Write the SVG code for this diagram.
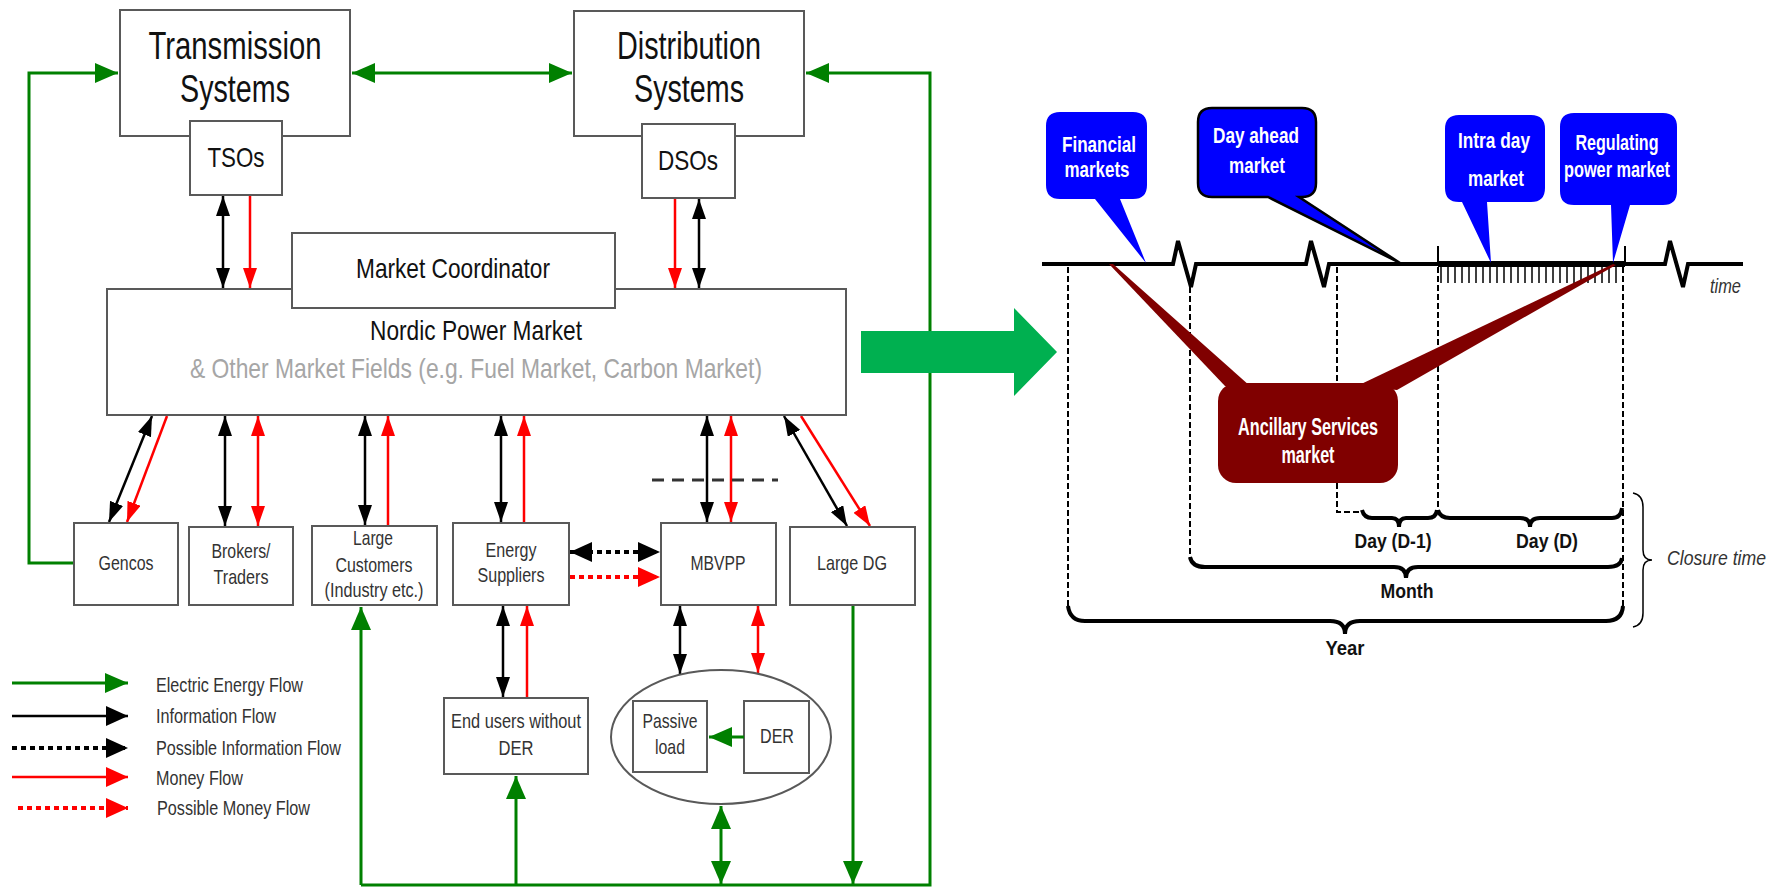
<svg xmlns="http://www.w3.org/2000/svg" width="1777" height="889" viewBox="0 0 1777 889">
<style>
text{font-family:"Liberation Sans",Arial,sans-serif}
.box{fill:#fff;stroke:#595959;stroke-width:2}
.big{font-size:38px;fill:#111;text-anchor:middle}
.mid{font-size:28px;fill:#111;text-anchor:middle}
.lbl{font-size:21px;fill:#333;text-anchor:middle}
.leg{font-size:21px;fill:#333}
.g{stroke:#008000;stroke-width:3;fill:none}
.k{stroke:#000;stroke-width:2.5;fill:none}
.r{stroke:#f00;stroke-width:2.5;fill:none}
.kd{stroke:#000;stroke-width:4;fill:none;stroke-dasharray:5 4}
.rd{stroke:#f00;stroke-width:4;fill:none;stroke-dasharray:5 4}
.call{fill:#0000ff}
.ct{font-size:22px;font-weight:bold;fill:#fff;text-anchor:middle}
.dash{stroke:#000;stroke-width:2;fill:none;stroke-dasharray:6 3}
.brace{stroke:#000;stroke-width:4;fill:none}
.bt{font-size:21px;font-weight:bold;fill:#111;text-anchor:middle}
.it{font-size:20px;font-style:italic;fill:#333}
</style>
<defs>
<marker id="ak" viewBox="0 0 20 14" refX="20" refY="7" markerWidth="20" markerHeight="14" markerUnits="userSpaceOnUse" orient="auto-start-reverse"><path d="M0,0 L20,7 L0,14 z" fill="#000"/></marker>
<marker id="ar" viewBox="0 0 20 14" refX="20" refY="7" markerWidth="20" markerHeight="14" markerUnits="userSpaceOnUse" orient="auto-start-reverse"><path d="M0,0 L20,7 L0,14 z" fill="#f00"/></marker>
<marker id="ag" viewBox="0 0 23 20" refX="23" refY="10" markerWidth="23" markerHeight="20" markerUnits="userSpaceOnUse" orient="auto-start-reverse"><path d="M0,0 L23,10 L0,20 z" fill="#008000"/></marker>
<marker id="akL" viewBox="0 0 22 20" refX="22" refY="10" markerWidth="22" markerHeight="20" markerUnits="userSpaceOnUse" orient="auto-start-reverse"><path d="M0,0 L22,10 L0,20 z" fill="#000"/></marker>
<marker id="arL" viewBox="0 0 22 20" refX="22" refY="10" markerWidth="22" markerHeight="20" markerUnits="userSpaceOnUse" orient="auto-start-reverse"><path d="M0,0 L22,10 L0,20 z" fill="#f00"/></marker>
</defs>

<g id="connectors">
  <path class="g" d="M74,563 H29 V73 H118" marker-end="url(#ag)"/>
  <path class="g" d="M352,73 H572" marker-start="url(#ag)" marker-end="url(#ag)"/>
  <path class="g" d="M361,885 H930 V73 H806" marker-end="url(#ag)"/>
  <path class="g" d="M361,885 V607" marker-end="url(#ag)"/>
  <path class="g" d="M516,885 V776" marker-end="url(#ag)"/>
  <path class="g" d="M721,806 V884" marker-start="url(#ag)" marker-end="url(#ag)"/>
  <path class="g" d="M853,605 V884" marker-end="url(#ag)"/>
  <path class="k" d="M223,196 V288" marker-start="url(#ak)" marker-end="url(#ak)"/>
  <path class="r" d="M250,196 V288" marker-end="url(#ar)"/>
  <path class="r" d="M675,199 V288" marker-end="url(#ar)"/>
  <path class="k" d="M699,199 V288" marker-start="url(#ak)" marker-end="url(#ak)"/>
  <path class="k" d="M152,416 L109,522" marker-start="url(#ak)" marker-end="url(#ak)"/>
  <path class="r" d="M167,416 L127,522" marker-end="url(#ar)"/>
  <path class="k" d="M225,416 V526" marker-start="url(#ak)" marker-end="url(#ak)"/>
  <path class="r" d="M258,416 V526" marker-start="url(#ar)" marker-end="url(#ar)"/>
  <path class="k" d="M365,416 V525" marker-start="url(#ak)" marker-end="url(#ak)"/>
  <path class="r" d="M388,526 V416" marker-end="url(#ar)"/>
  <path class="k" d="M501,416 V522" marker-start="url(#ak)" marker-end="url(#ak)"/>
  <path class="r" d="M524,523 V416" marker-end="url(#ar)"/>
  <path class="k" d="M707,416 V522" marker-start="url(#ak)" marker-end="url(#ak)"/>
  <path class="r" d="M731,416 V522" marker-start="url(#ar)" marker-end="url(#ar)"/>
  <path class="k" d="M784,416 L847,526" marker-start="url(#ak)" marker-end="url(#ak)"/>
  <path class="r" d="M801,416 L870,526" marker-end="url(#ar)"/>
  <path d="M652,480 H778" stroke="#333" stroke-width="3" stroke-dasharray="12 8" fill="none"/>
  <path class="kd" d="M570,552 H660" marker-start="url(#akL)" marker-end="url(#akL)"/>
  <path class="rd" d="M570,577 H660" marker-end="url(#arL)"/>
  <path class="k" d="M503,606 V697" marker-start="url(#ak)" marker-end="url(#ak)"/>
  <path class="r" d="M527,698 V606" marker-end="url(#ar)"/>
  <path class="k" d="M680,606 V674" marker-start="url(#ak)" marker-end="url(#ak)"/>
  <path class="r" d="M758,606 V673" marker-start="url(#ar)" marker-end="url(#ar)"/>
</g>

<g id="transmission">
  <rect class="box" x="120" y="10" width="230" height="126"/>
  <text class="big" x="235" y="59" textLength="173" lengthAdjust="spacingAndGlyphs">Transmission</text>
  <text class="big" x="235" y="102" textLength="110" lengthAdjust="spacingAndGlyphs">Systems</text>
</g>
<g id="tsos">
  <rect class="box" x="190" y="121" width="92" height="74"/>
  <text class="mid" x="236" y="167" textLength="57" lengthAdjust="spacingAndGlyphs">TSOs</text>
</g>
<g id="distribution">
  <rect class="box" x="574" y="11" width="230" height="125"/>
  <text class="big" x="689" y="59" textLength="144" lengthAdjust="spacingAndGlyphs">Distribution</text>
  <text class="big" x="689" y="102" textLength="110" lengthAdjust="spacingAndGlyphs">Systems</text>
</g>
<g id="dsos">
  <rect class="box" x="642" y="124" width="93" height="74"/>
  <text class="mid" x="688" y="170" textLength="60" lengthAdjust="spacingAndGlyphs">DSOs</text>
</g>
<g id="nordic-market">
  <rect class="box" x="107" y="289" width="739" height="126"/>
  <text class="mid" x="476" y="340" textLength="212" lengthAdjust="spacingAndGlyphs">Nordic Power Market</text>
  <text class="mid" x="476" y="378" style="fill:#a6a6a6" textLength="572" lengthAdjust="spacingAndGlyphs">&amp; Other Market Fields (e.g. Fuel Market, Carbon Market)</text>
</g>
<g id="market-coordinator">
  <rect class="box" x="292" y="233" width="323" height="75"/>
  <text class="mid" x="453" y="278" textLength="194" lengthAdjust="spacingAndGlyphs">Market Coordinator</text>
</g>
<g id="gencos">
  <rect class="box" x="74" y="523" width="104" height="82"/>
  <text class="lbl" x="126" y="570" textLength="55" lengthAdjust="spacingAndGlyphs">Gencos</text>
</g>
<g id="brokers">
  <rect class="box" x="189" y="527" width="104" height="78"/>
  <text class="lbl" x="241" y="558" textLength="59" lengthAdjust="spacingAndGlyphs">Brokers/</text>
  <text class="lbl" x="241" y="584" textLength="55" lengthAdjust="spacingAndGlyphs">Traders</text>
</g>
<g id="large-customers">
  <rect class="box" x="312" y="526" width="125" height="79"/>
  <text class="lbl" x="373" y="545" textLength="40" lengthAdjust="spacingAndGlyphs">Large</text>
  <text class="lbl" x="374" y="572" textLength="77" lengthAdjust="spacingAndGlyphs">Customers</text>
  <text class="lbl" x="374" y="597" textLength="99" lengthAdjust="spacingAndGlyphs">(Industry etc.)</text>
</g>
<g id="energy-suppliers">
  <rect class="box" x="453" y="523" width="116" height="82"/>
  <text class="lbl" x="511" y="557" textLength="51" lengthAdjust="spacingAndGlyphs">Energy</text>
  <text class="lbl" x="511" y="582" textLength="67" lengthAdjust="spacingAndGlyphs">Suppliers</text>
</g>
<g id="mbvpp">
  <rect class="box" x="661" y="523" width="115" height="82"/>
  <text class="lbl" x="718" y="570" textLength="55" lengthAdjust="spacingAndGlyphs">MBVPP</text>
</g>
<g id="large-dg">
  <rect class="box" x="790" y="527" width="125" height="78"/>
  <text class="lbl" x="852" y="570" textLength="70" lengthAdjust="spacingAndGlyphs">Large DG</text>
</g>
<g id="end-users">
  <rect class="box" x="444" y="698" width="144" height="76"/>
  <text class="lbl" x="516" y="728" textLength="130" lengthAdjust="spacingAndGlyphs">End users without</text>
  <text class="lbl" x="516" y="755" textLength="35" lengthAdjust="spacingAndGlyphs">DER</text>
</g>
<g id="aggregate">
  <ellipse cx="721" cy="737" rx="110" ry="67" fill="#fff" stroke="#595959" stroke-width="2"/>
</g>
<g id="passive-load">
  <rect class="box" x="633" y="701" width="74" height="71"/>
  <text class="lbl" x="670" y="728" textLength="55" lengthAdjust="spacingAndGlyphs">Passive</text>
  <text class="lbl" x="670" y="754" textLength="30" lengthAdjust="spacingAndGlyphs">load</text>
</g>
<g id="der">
  <rect class="box" x="744" y="701" width="65" height="72"/>
  <text class="lbl" x="777" y="743" textLength="34" lengthAdjust="spacingAndGlyphs">DER</text>
</g>
<g id="der-to-load">
  <path class="g" d="M744,737 H709" marker-end="url(#ag)"/>
</g>

<g id="legend">
  <path class="g" d="M12,683 H128" marker-end="url(#ag)"/>
  <path class="k" stroke-width="3" d="M12,716 H128" marker-end="url(#akL)"/>
  <path class="kd" d="M12,748 H128" marker-end="url(#akL)"/>
  <path class="r" stroke-width="3" d="M12,777 H128" marker-end="url(#arL)"/>
  <path class="rd" d="M18,808 H128" marker-end="url(#arL)"/>
  <text class="leg" x="156" y="692" textLength="147" lengthAdjust="spacingAndGlyphs">Electric Energy Flow</text>
  <text class="leg" x="156" y="723" textLength="120" lengthAdjust="spacingAndGlyphs">Information Flow</text>
  <text class="leg" x="156" y="755" textLength="185" lengthAdjust="spacingAndGlyphs">Possible Information Flow</text>
  <text class="leg" x="156" y="785" textLength="87" lengthAdjust="spacingAndGlyphs">Money Flow</text>
  <text class="leg" x="157" y="815" textLength="153" lengthAdjust="spacingAndGlyphs">Possible Money Flow</text>
</g>

<g id="transition-arrow">
  <polygon points="861,331 1014,331 1014,308 1057,352 1014,396 1014,373 861,373" fill="#00b050"/>
</g>

<g id="timeline">
  <path d="M1042,264 H1173 L1178,241 L1191,287 L1196,264 H1306 L1311,241 L1324,287 L1329,264 H1665 L1670,241 L1683,287 L1688,264 H1743" stroke="#000" stroke-width="4" fill="none"/>
  <path d="M1438,264 H1625" stroke="#000" stroke-width="6"/>
  <path d="M1438,246 V264 M1625,246 V264" stroke="#000" stroke-width="2"/>
  <path d="M1441,264V283M1448,264V283M1455,264V283M1462,264V283M1469,264V283M1476,264V283M1483,264V283M1490,264V283M1497,264V283M1504,264V283M1511,264V283M1518,264V283M1525,264V283M1532,264V283M1539,264V283M1546,264V283M1553,264V283M1560,264V283M1567,264V283M1574,264V283M1581,264V283M1588,264V283M1595,264V283M1602,264V283M1609,264V283M1616,264V283" stroke="#000" stroke-width="1.5"/>
  <text class="it" x="1710" y="293" textLength="31" lengthAdjust="spacingAndGlyphs">time</text>
</g>
<g id="dashed-lines">
  <path class="dash" d="M1068,267 V606"/>
  <path class="dash" d="M1190,287 V558"/>
  <path class="dash" d="M1337,267 V512 H1360"/>
  <path class="dash" d="M1438,267 V511"/>
  <path class="dash" d="M1623,267 V607"/>
</g>
<g id="ancillary">
  <polygon points="1109,264 1113,264 1250,386 1225,386" fill="#800000"/>
  <polygon points="1613,264 1616,265 1397,390 1357,386" fill="#800000"/>
  <rect x="1218" y="383" width="180" height="100" rx="18" fill="#800000"/>
  <text class="ct" x="1308" y="435" style="font-size:23px" textLength="140" lengthAdjust="spacingAndGlyphs">Ancillary Services</text>
  <text class="ct" x="1308" y="463" style="font-size:23px" textLength="53" lengthAdjust="spacingAndGlyphs">market</text>
</g>
<g id="financial">
  <path class="call" d="M1060,112 H1133 Q1147,112 1147,126 V185 Q1147,199 1133,199 H1120 L1146,263 L1095,199 H1060 Q1046,199 1046,185 V126 Q1046,112 1060,112 Z"/>
  <text class="ct" x="1099" y="152" textLength="74" lengthAdjust="spacingAndGlyphs">Financial</text>
  <text class="ct" x="1097" y="177" textLength="65" lengthAdjust="spacingAndGlyphs">markets</text>
</g>
<g id="day-ahead">
  <path class="call" stroke="#000" stroke-width="2.5" d="M1212,108 H1302 Q1316,108 1316,122 V183 Q1316,197 1302,197 H1299 L1400,263 L1268,197 H1212 Q1198,197 1198,183 V122 Q1198,108 1212,108 Z"/>
  <text class="ct" x="1256" y="143" textLength="86" lengthAdjust="spacingAndGlyphs">Day ahead</text>
  <text class="ct" x="1257" y="173" textLength="56" lengthAdjust="spacingAndGlyphs">market</text>
</g>
<g id="intra-day">
  <path class="call" d="M1459,115 H1531 Q1545,115 1545,129 V188 Q1545,202 1531,202 H1487 L1491,263 L1462,202 H1459 Q1445,202 1445,188 V129 Q1445,115 1459,115 Z"/>
  <text class="ct" x="1494" y="148" textLength="72" lengthAdjust="spacingAndGlyphs">Intra day</text>
  <text class="ct" x="1496" y="186" textLength="56" lengthAdjust="spacingAndGlyphs">market</text>
</g>
<g id="regulating">
  <path class="call" d="M1574,113 H1663 Q1677,113 1677,127 V191 Q1677,205 1663,205 H1630 L1613,263 L1611,205 H1574 Q1560,205 1560,191 V127 Q1560,113 1574,113 Z"/>
  <text class="ct" x="1617" y="150" textLength="83" lengthAdjust="spacingAndGlyphs">Regulating</text>
  <text class="ct" x="1617" y="177" textLength="106" lengthAdjust="spacingAndGlyphs">power market</text>
</g>
<g id="braces">
  <path class="brace" d="M1362,510 Q1364,518 1372,518 H1392 Q1399,518 1399,527 Q1399,518 1406,518 H1428 Q1436,518 1437,510"/>
  <path class="brace" d="M1438,510 Q1440,518 1450,518 H1520 Q1530,518 1530,527 Q1530,518 1540,518 H1612 Q1621,518 1622,508"/>
  <path class="brace" d="M1190,557 Q1192,567 1205,567 H1394 Q1406,567 1406,578 Q1406,567 1418,567 H1608 Q1621,567 1622,558"/>
  <path class="brace" d="M1068,606 Q1070,621 1085,621 H1330 Q1345,621 1345,634 Q1345,621 1360,621 H1606 Q1622,621 1623,606"/>
  <path d="M1633,493 Q1643,495 1643,507 V550 Q1643,560 1652,560 Q1643,560 1643,570 V613 Q1643,625 1633,627" stroke="#000" stroke-width="1.5" fill="none"/>
  <text class="bt" x="1393" y="548" textLength="77" lengthAdjust="spacingAndGlyphs">Day (D-1)</text>
  <text class="bt" x="1547" y="548" textLength="62" lengthAdjust="spacingAndGlyphs">Day (D)</text>
  <text class="bt" x="1407" y="598" textLength="53" lengthAdjust="spacingAndGlyphs">Month</text>
  <text class="bt" x="1345" y="655" textLength="39" lengthAdjust="spacingAndGlyphs">Year</text>
  <text class="it" x="1667" y="565" textLength="99" lengthAdjust="spacingAndGlyphs">Closure time</text>
</g>
</svg>
